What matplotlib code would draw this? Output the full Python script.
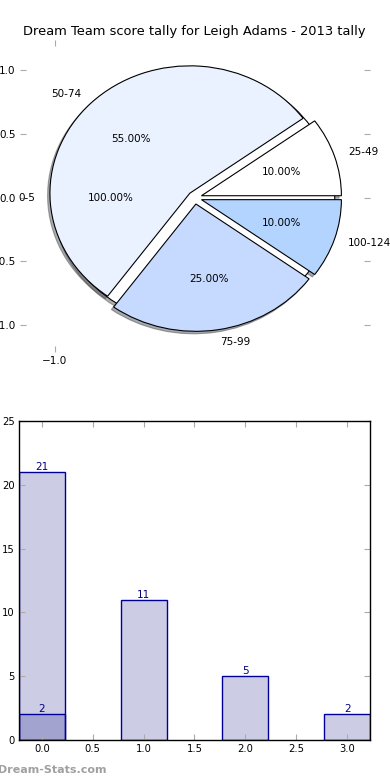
import numpy as np
import matplotlib
matplotlib.use("Agg")
import matplotlib.pyplot as plt
from matplotlib.ticker import FuncFormatter

# pie data
base_label = ['0-5']
base_value = [1]
pie_labels = ['25-49', '50-74', '75-99', '100-124']
pie_values = [10, 55, 25, 10]
pie_colors = ['#ffffff', '#eaf1ff', '#c6d9ff', '#b3d4ff']

# bar data
bar_x = [0, 1, 2, 3]
bar_heights = [21, 11, 5, 2]
low_x = [0]
low_heights = [2]

plt.rcParams['font.family'] = ['DejaVu Sans']


def one_dec(v, pos):
    return ('%.1f' % v).replace('-', '\u2212')


fig = plt.figure(figsize=(3.9, 7.8), dpi=100)

# --- pie ---
ax1 = fig.add_axes([0.051, 0.549, 0.897, 0.40])
wp = {'edgecolor': 'black', 'linewidth': 0.8}
tp = {'fontsize': 7.5}
shd = {'ox': -0.012, 'oy': -0.014, 'alpha': 0.45}
ax1.pie(base_value, labels=base_label, colors=['#ffffff'], autopct='%.2f%%',
        shadow=shd, wedgeprops=wp, textprops=tp, labeldistance=1.14)
ax1.pie(pie_values, labels=pie_labels, colors=pie_colors, autopct='%.2f%%',
        explode=[0.05] * len(pie_values), shadow=shd, wedgeprops=wp,
        textprops=tp)
ax1.set_aspect('auto')
ax1.set_frame_on(False)
ax1.set_xlim(-1.25, 1.25)
ax1.set_ylim(-1.21, 1.24)
ax1.set_xticks([-1.0])
ax1.set_yticks([-1.0, -0.5, 0.0, 0.5, 1.0])
ax1.xaxis.set_major_formatter(FuncFormatter(one_dec))
ax1.yaxis.set_major_formatter(FuncFormatter(one_dec))
ax1.tick_params(direction='in', length=4, color='#aaaaaa', labelsize=7.5,
                top=True, right=True, pad=3)
ax1.set_title('Dream Team score tally for Leigh Adams - 2013 tally',
              fontsize=9.4, pad=3.5)

# --- bars ---
ax2 = fig.add_axes([0.0487, 0.0513, 0.9, 0.409])
face = (0, 0, 0.5, 0.2)
edge = '#000099'
b1 = ax2.bar(bar_x, bar_heights, width=0.45, color=face, edgecolor=edge,
             linewidth=1)
b2 = ax2.bar(low_x, low_heights, width=0.45, color=face, edgecolor=edge,
             linewidth=1)
for rect, h in zip(list(b1) + list(b2), bar_heights + low_heights):
    ax2.text(rect.get_x() + rect.get_width() / 2, h, '%d' % h,
             ha='center', va='bottom', color='navy', fontsize=7.5)
ax2.set_xlim(-0.225, 3.225)
ax2.set_ylim(0, 25)
ax2.set_xticks(np.arange(0, 3.01, 0.5))
ax2.set_yticks(range(0, 26, 5))
ax2.tick_params(direction='in', length=4, color='#aaaaaa', labelsize=7.2,
                top=True, right=True, pad=3)
for s in ax2.spines.values():
    s.set_linewidth(1)

fig.text(-0.004, 0.006, 'Dream-Stats.com', color='#a0a0a0', fontsize=8,
         fontweight='bold', ha='left', va='bottom')

fig.savefig('out.png', dpi=100)
